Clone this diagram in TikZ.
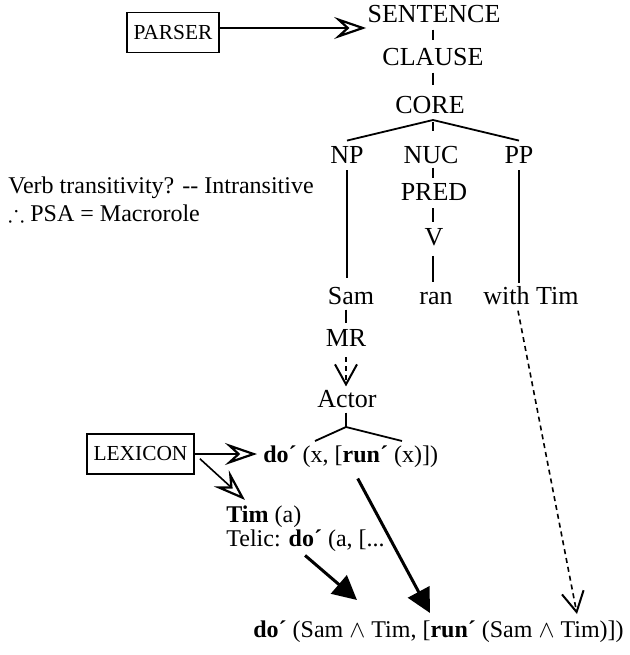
\documentclass[tikz,border=0pt]{standalone}
\usepackage{amssymb}
\usepackage{fontspec}
\setmainfont{Liberation Serif}
\usetikzlibrary{arrows.meta}
\begin{document}
\begin{tikzpicture}[x=0.5pt,y=-0.5pt,
  lbl/.style={inner sep=0pt, font=\fontsize{13}{15}\selectfont},
  txt/.style={inner sep=0pt, anchor=base west, font=\fontsize{12}{14}\selectfont},
  box/.style={draw, line width=0.7pt, inner sep=0pt, minimum height=20pt,
    font=\fontsize{10.7}{12}\selectfont},
  tree/.style={line width=0.9pt},
  openhead/.style={line width=0.8pt,
    -{Stealth[open, length=16pt, width=11pt, inset=6pt, line width=1.1pt]}},
  dashto/.style={line width=0.8pt, dash pattern=on 2.5pt off 2pt,
    -{Straight Barb[length=10pt, width=11pt, line width=1pt]}},
  solidto/.style={line width=1.5pt, -{Triangle[length=12pt, width=12pt]}}
]
\useasboundingbox (0,0) rectangle (630,655);

% tree labels
\node[lbl, anchor=base] (sentence) at (434,22) {SENTENCE};
\node[lbl, anchor=base] (clause) at (433,65) {CLAUSE};
\node[lbl, anchor=base] (core) at (430,113) {CORE};
\node[lbl, anchor=base] (np) at (347,163) {NP};
\node[lbl, anchor=base] (nuc) at (431,163) {NUC};
\node[lbl, anchor=base] (pp) at (519,163) {PP};
\node[lbl, anchor=base] (pred) at (434,200) {PRED};
\node[lbl, anchor=base] (v) at (434,245) {V};
\node[lbl, anchor=base] (sam) at (351,304) {Sam};
\node[lbl, anchor=base] (ran) at (436,304) {ran};
\node[lbl, anchor=base] (withtim) at (531,304) {with Tim};
\node[lbl, anchor=base] (mr) at (346,346) {MR};
\node[lbl, anchor=base] (actor) at (347,407) {Actor};

% semantic representations
\node[txt] (doform) at (263,462) {\textbf{do´} (x, [\textbf{run´} (x)])};
\node[txt] (tim) at (226,522) {\textbf{Tim} (a)};
\node[txt] (telic) at (226,546) {Telic: \textbf{do´} (a, [...};
\node[txt] (result) at (253,637)
  {\textbf{do´} (Sam $\wedge$ Tim, [\textbf{run´} (Sam $\wedge$ Tim)])};

% side notes
\node[txt] (q1) at (8,193) {Verb transitivity? {-}{-} Intransitive};
\node[txt] (q2) at (8,221) {$\therefore$ PSA = Macrorole};

% modules
\node[box, minimum width=46pt] (parser) at (173,32.5) {PARSER};
\node[box, minimum width=53.5pt] (lexicon) at (140.5,454) {LEXICON};

% fork points and argument slots
\coordinate (corefork) at (433,120);
\coordinate (actorfork) at (346,427);
\coordinate (argx) at (315,441);
\coordinate (argy) at (402,441);
\coordinate (tipA) at (357,600);
\coordinate (tipB) at (430,613);
\coordinate (tipC) at (577,614);

% spine
\draw[tree, shorten <=3.5pt, shorten >=3.5pt] (clause.north |- sentence.south) -- (clause.north);
\draw[tree, shorten <=3.5pt, shorten >=5pt] (clause.south) -- (clause.south |- core.north);
\draw[tree] (corefork) -- ([yshift=2.5pt]np.north);
\draw[tree] (corefork) -- ([yshift=2.5pt]pp.north);
\draw[tree, shorten <=1pt, shorten >=7pt] (corefork) -- (corefork |- nuc.north);
\draw[tree, shorten <=3.5pt, shorten >=4pt] (np.south) -- (np.south |- sam.north);
\draw[tree, shorten <=2pt, shorten >=2.5pt] (nuc.south -| corefork) -- (corefork |- pred.north);
\draw[tree, shorten <=4pt, shorten >=3pt] (pred.south -| corefork) -- (corefork |- v.north);
\draw[tree, shorten <=5pt, shorten >=4.5pt] (v.south -| corefork) -- (corefork |- ran.north);
\draw[tree, shorten <=3.5pt, shorten >=1.5pt] (pp.south) -- (pp.south |- withtim.north);
\draw[tree, shorten <=2.5pt, shorten >=3pt] (sam.south -| mr.north) -- (mr.north);
\draw[dashto, shorten <=5.5pt, shorten >=1.5pt] (mr.south) -- (mr.south |- actor.north);
\draw[tree, shorten <=2.5pt] (actor.south -| actorfork) -- (actorfork);
\draw[tree] (actorfork) -- (argx);
\draw[tree] (actorfork) -- (argy);

% module arrows
\draw[openhead, shorten >=0.5pt] ([yshift=2.25pt]parser.east) -- ([yshift=2.25pt]parser.east -| sentence.west);
\draw[openhead, shorten >=3pt] (lexicon.east) -- (lexicon.east -| doform.west);
\draw[openhead, shorten <=3.5pt] (lexicon.east) -- ([shift={(9.5pt,2.5pt)}]tim.north west);

% linking arrows
\draw[solidto, shorten <=3pt] ([xshift=-2.5pt]telic.south) -- (tipA);
\draw[solidto] ([xshift=3.5pt,yshift=-5.5pt]doform.south) -- (tipB);
\draw[dashto] ([xshift=-6.5pt,yshift=-3pt]withtim.south) -- (tipC);
\end{tikzpicture}
\end{document}
